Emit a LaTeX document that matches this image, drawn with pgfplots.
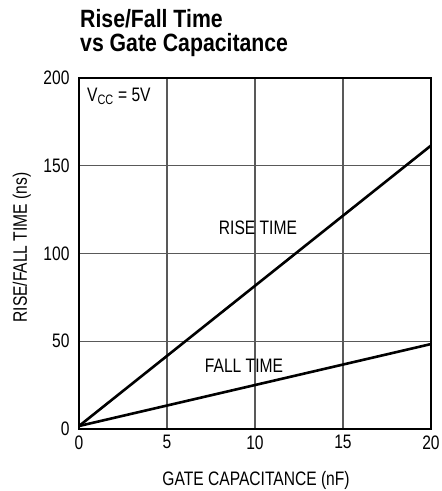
\documentclass[border=0pt]{standalone}
\usepackage{fontspec}
\setmainfont{Liberation Sans}[FakeStretch=0.8]
\newfontfamily\titlefont{Liberation Sans}[FakeStretch=0.85]
\usepackage{pgfplots}
\pgfplotsset{compat=1.18}
\begin{document}
\begin{tikzpicture}
\useasboundingbox (-79pt,-62pt) rectangle (363pt,429pt);
\begin{axis}[
  scale only axis,
  width=352pt, height=351pt,
  xmin=0, xmax=20, ymin=0, ymax=200,
  xtick={0,5,10,15,20}, ytick={0,50,100,150,200},
  grid=major,
  major grid style={line width=1.2pt, black!65},
  axis line style={line width=1.6pt},
  major tick length=0pt,
  /pgf/number format/assume math mode=true,
  tick label style={font=\fontsize{19.5}{22}\selectfont},
  label style={font=\fontsize{19.5}{22}\selectfont},
  xticklabel style={yshift=-3pt},
  yticklabel style={xshift=-6pt},
  xlabel={GATE CAPACITANCE (nF)},
  ylabel={RISE/FALL TIME (ns)},
  xlabel style={at={(axis description cs:0.503,0)}, anchor=base, yshift=-56pt},
  ylabel style={at={(axis description cs:-0.148,0.517)}, anchor=base},
  clip=false,
]
\addplot[black, line width=2.6pt] coordinates {(0,1.7) (20,161.5)};
\addplot[black, line width=2.6pt] coordinates {(0,1.7) (20,48.4)};
\node[font=\fontsize{19.5}{22}\selectfont] at (axis cs:10.17,114.5) {RISE TIME};
\node[font=\fontsize{19.5}{22}\selectfont] at (axis cs:9.375,35.9) {FALL TIME};
\node[font=\fontsize{19.5}{22}\selectfont, anchor=west, inner sep=0pt] at (axis cs:0.45,189.7) {V\textsubscript{CC} = 5V};
\end{axis}
\node[anchor=base west, inner sep=0pt, font=\titlefont\fontsize{25}{26}\selectfont\bfseries] at (1pt,401pt) {Rise/Fall Time};
\node[anchor=base west, inner sep=0pt, font=\titlefont\fontsize{25}{26}\selectfont\bfseries] at (1pt,377pt) {vs Gate Capacitance};
\end{tikzpicture}
\end{document}
